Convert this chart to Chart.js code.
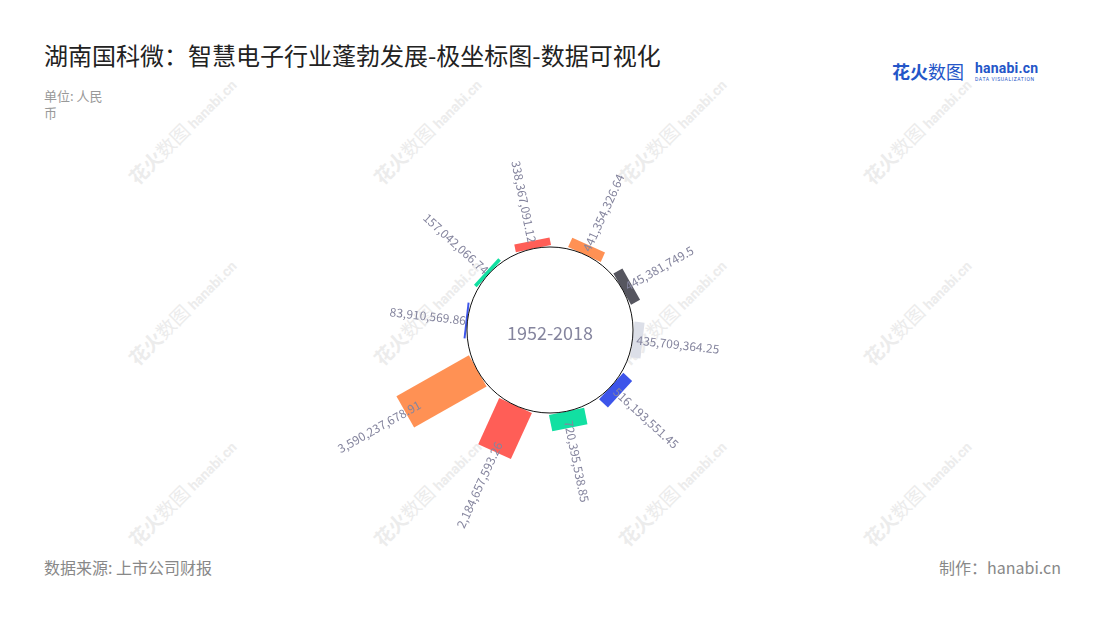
<!DOCTYPE html>
<html>
<head>
<meta charset="utf-8">
<script src="https://cdn.jsdelivr.net/npm/chart.js@4.4.0/dist/chart.umd.min.js"></script>
<style>
  body { margin: 0; width: 1100px; height: 620px; position: relative; overflow: hidden; background: #fff;
         font-family: "Noto Sans CJK SC", "Noto Sans", sans-serif; }
  .abs { position: absolute; white-space: nowrap; }
  #title { left: 44px; top: 40px; font-size: 24px; line-height: 30px; color: #222; }
  #unit { left: 44px; top: 87px; font-size: 13px; line-height: 17px; color: #999; }
  #source { left: 44px; top: 556px; font-size: 16px; line-height: 22px; color: #888; }
  #credit { right: 39px; top: 556px; font-size: 16px; line-height: 22px; color: #888; }
  #chartBox { left: 300px; top: 80px; width: 500px; height: 500px; }
  .wm { position: absolute; white-space: nowrap; color: #ececec; font-size: 19px; line-height: 24px;
        transform: rotate(-45deg); transform-origin: 0 50%; }
  .wm i { font-style: normal; font-family: Roboto, sans-serif; font-weight: bold; font-size: 14px; margin-left: 4px; }
  .logo { color: #2456c8; }
</style>
</head>
<body>
<div id="wmLayer"></div>
<div id="chartBox" class="abs"><canvas id="polarChart" width="500" height="500"></canvas></div>

<div id="title" class="abs">湖南国科微：智慧电子行业蓬勃发展-极坐标图-数据可视化</div>
<div id="unit" class="abs">单位: 人民<br>币</div>
<div class="abs logo" style="left:892px; top:59px; font-size:18px; line-height:24px;"><b>花火</b>数图</div>
<div class="abs logo" style="left:975px; top:59px; font: bold 14px/18px Roboto, sans-serif; letter-spacing: 0.2px;">hanabi.cn</div>
<div class="abs logo" style="left:975px; top:76px; font: 5px/6px Roboto, sans-serif; letter-spacing: 0.6px;">DATA VISUALIZATION</div>
<div id="source" class="abs">数据来源: 上市公司财报</div>
<div id="credit" class="abs">制作：hanabi.cn</div>

<script>
// values clockwise from the top bar
const values = [338367091.12, 441354326.64, 445381749.5, 435709364.25, 516193551.45,
                720395538.85, 2184657593.26, 3590237678.91, 83910569.86, 157042066.74];
const barColors = ['#ff5e57', '#ff9154', '#56565f', '#dcdfe8', '#3d55ea',
                   '#12e0a2', '#ff5e57', '#ff9154', '#3d55ea', '#12e0a2'];
const periodLabel = '1952-2018';
// radial axis limits (the empty hole in the middle sits below zero)
const radialMin = -3.578e9;
const radialMax = 7.198e9;

const fmt = v => v.toLocaleString('en-US', { maximumFractionDigits: 2 });

// background watermark tiles
const wmLayer = document.getElementById('wmLayer');
for (let row = 0; row < 3; row++) {
  for (let col = 0; col < 4; col++) {
    const d = document.createElement('div');
    d.className = 'wm';
    d.style.left = (133 + col * 245) + 'px';
    d.style.top = (168 + row * 181) + 'px';
    d.innerHTML = '<b>花火</b>数图<i>hanabi.cn</i>';
    wmLayer.appendChild(d);
  }
}

const LABEL_COLOR = '#85859e';

const polarBars = {
  id: 'polarBars',
  beforeDatasetDraw(chart, args) {
    const ctx = chart.ctx;
    const r0 = chart.scales.r.getDistanceFromCenterForValue(0);
    args.meta.data.forEach(arc => {
      const { x, y, startAngle, endAngle, outerRadius } = arc;
      const mid = (startAngle + endAngle) / 2;
      const half = r0 * Math.sin((endAngle - startAngle) / 2) * 0.7;
      const ux = Math.cos(mid), uy = Math.sin(mid);
      const tx = -uy, ty = ux;
      ctx.save();
      ctx.beginPath();
      ctx.moveTo(x + ux * r0 + tx * half, y + uy * r0 + ty * half);
      ctx.lineTo(x + ux * outerRadius + tx * half, y + uy * outerRadius + ty * half);
      ctx.lineTo(x + ux * outerRadius - tx * half, y + uy * outerRadius - ty * half);
      ctx.lineTo(x + ux * r0 - tx * half, y + uy * r0 - ty * half);
      ctx.closePath();
      ctx.fillStyle = arc.options.backgroundColor;
      ctx.fill();
      ctx.restore();
    });
    return false;
  },
  afterDatasetsDraw(chart) {
    const ctx = chart.ctx;
    const scale = chart.scales.r;
    const cx = scale.xCenter, cy = scale.yCenter;
    const r0 = scale.getDistanceFromCenterForValue(0);

    ctx.save();
    ctx.beginPath();
    ctx.arc(cx, cy, r0, 0, Math.PI * 2);
    ctx.fillStyle = '#fff';
    ctx.fill();
    ctx.lineWidth = 1;
    ctx.strokeStyle = '#111';
    ctx.stroke();

    ctx.fillStyle = LABEL_COLOR;
    ctx.font = '18px "Noto Sans CJK SC"';
    ctx.textAlign = 'center';
    ctx.textBaseline = 'middle';
    ctx.fillText(periodLabel, cx, cy + 3);

    ctx.font = '12px "Noto Sans CJK SC"';
    const meta = chart.getDatasetMeta(0);
    meta.data.forEach((arc, i) => {
      const mid = (arc.startAngle + arc.endAngle) / 2;
      const len = arc.outerRadius - r0;
      let a = ((mid + Math.PI / 2) % (Math.PI * 2) + Math.PI * 2) % (Math.PI * 2);
      const rightSide = a < Math.PI;
      const ra = r0 + len * 0.8 - (rightSide ? 4 : 0);
      ctx.save();
      ctx.translate(cx + Math.cos(mid) * ra, cy + Math.sin(mid) * ra);
      if (rightSide) {
        ctx.rotate(mid);
        ctx.textAlign = 'left';
      } else {
        ctx.rotate(mid + Math.PI);
        ctx.textAlign = 'right';
      }
      ctx.fillText(fmt(values[i]), 0, 0);
      ctx.restore();
    });
    ctx.restore();
  }
};

new Chart(document.getElementById('polarChart').getContext('2d'), {
  type: 'polarArea',
  data: {
    labels: values.map(fmt),
    datasets: [{
      data: values,
      backgroundColor: barColors,
      borderWidth: 0
    }]
  },
  options: {
    responsive: false,
    animation: false,
    plugins: {
      legend: { display: false },
      tooltip: { enabled: false }
    },
    scales: {
      r: {
        min: radialMin,
        max: radialMax,
        startAngle: -29.5,
        ticks: { display: false },
        grid: { display: false },
        angleLines: { display: false },
        pointLabels: { display: false }
      }
    }
  },
  plugins: [polarBars]
});
</script>
</body>
</html>
